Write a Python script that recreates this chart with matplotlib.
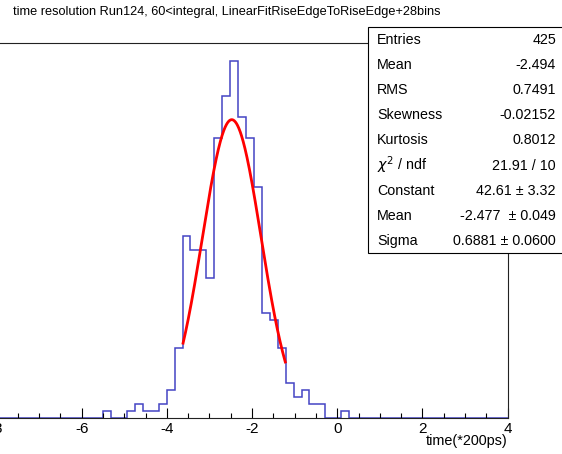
import numpy as np
import matplotlib
matplotlib.use('Agg')
from matplotlib import pyplot as plt
from matplotlib.patches import Rectangle
from matplotlib.ticker import MultipleLocator

plt.rcParams['font.family'] = ['Liberation Sans', 'DejaVu Sans']
plt.rcParams['axes.unicode_minus'] = False

# histogram: 65 bins between -8.1 and 4 (bin width ~0.186)
x_min = -8.1
x_max = 4.0
n_bins = 65
counts = [0]*14 + [1, 0, 0, 1, 2, 1, 1, 2, 4, 10, 26, 24, 24, 20, 40, 46, 51, 43,
                   40, 33, 15, 14, 10, 5, 3, 4, 2, 2, 0, 0, 1] + [0]*20

# gaussian fit result
fit_const = 42.61
fit_mean = -2.477
fit_sigma = 0.6881
fit_lo, fit_hi = -3.62, -1.22

title = 'time resolution Run124, 60<integral, LinearFitRiseEdgeToRiseEdge+28bins'
xlabel = 'time(*200ps)'

stat_names = ['Entries', 'Mean', 'RMS', 'Skewness', 'Kurtosis', r'$\chi^{2}$ / ndf',
              'Constant', 'Mean', 'Sigma']
stat_values = ['425', '-2.494', '0.7491', '-0.02152', '0.8012', '21.91 / 10',
               '42.61 \u00b1 3.32', '-2.477  \u00b1 0.049', '0.6881 \u00b1 0.0600']

W, H = 562, 454
fig = plt.figure(figsize=(W/100, H/100), dpi=100)

# frame: left edge lies just outside the picture (cropped like the original)
ax = fig.add_axes([-7.8/W, 35.7/H, 515.5/W, 375.3/H])

edges = np.linspace(x_min, x_max, n_bins+1)
ax.stairs(counts, edges, color='#4444c4', lw=1.1, baseline=0)

xf = np.linspace(fit_lo, fit_hi, 300)
ax.plot(xf, fit_const*np.exp(-0.5*((xf-fit_mean)/fit_sigma)**2), color='red', lw=2.0)

ax.set_xlim(x_min, x_max)
ax.set_ylim(0, 1.05*max(counts))
ax.xaxis.set_major_locator(MultipleLocator(2))
ax.xaxis.set_minor_locator(MultipleLocator(0.5))
ax.tick_params(axis='x', which='major', direction='in', length=7.2, width=0.8,
               labelsize=11, pad=3, top=False)
ax.tick_params(axis='x', which='minor', direction='in', length=3.6, width=0.8, top=False)
ax.set_yticks([])
for s in ax.spines.values():
    s.set_linewidth(0.8)
    s.set_color('#222222')

fig.text(13/W, 1-12/H, title, ha='left', va='center', fontsize=9.2)
fig.text(508/W, 1-441.5/H, xlabel, ha='right', va='center', fontsize=10.4)

# statistics box
box = Rectangle((368/W, 1-253/H), 240/W, 226/H, transform=fig.transFigure,
                facecolor='white', edgecolor='black', lw=0.8, zorder=5)
fig.add_artist(box)
for i in range(len(stat_names)):
    yy = 1 - (40 + i*25.1)/H
    fig.text(377/W, yy, stat_names[i], ha='left', va='center', fontsize=10.3, zorder=6)
    fig.text(556/W, yy, stat_values[i], ha='right', va='center', fontsize=10.3, zorder=6)

fig.savefig('out.png', dpi=100)
